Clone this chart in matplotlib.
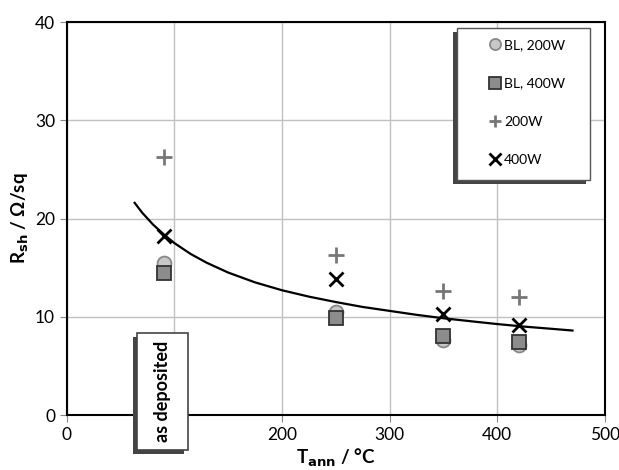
import matplotlib
matplotlib.use("Agg")
import matplotlib.pyplot as plt
from matplotlib.patches import Rectangle

plt.rcParams['font.family'] = ['Lato', 'DejaVu Sans']

T = [90, 250, 350, 420]
bl_200 = [15.5, 10.5, 7.6, 7.1]
bl_400 = [14.5, 9.9, 8.0, 7.4]
w_200 = [26.3, 16.3, 12.6, 12.0]
w_400 = [18.2, 13.8, 10.3, 9.2]

trend_x = [63, 70, 80, 90, 100, 115, 130, 150, 175, 200, 225, 250, 275, 300,
           325, 350, 375, 400, 425, 450, 470]
trend_y = [21.6, 20.6, 19.4, 18.4, 17.5, 16.4, 15.5, 14.5, 13.5, 12.7, 12.05, 11.5,
           11.0, 10.6, 10.2, 9.85, 9.55, 9.26, 9.0, 8.78, 8.6]

x_ticks = [0, 100, 200, 300, 400, 500]
x_ticklabels = ['0', '', '200', '300', '400', '500']
y_ticks = [0, 10, 20, 30, 40]

W, H = 619.0, 470.0
fig = plt.figure(figsize=(6.19, 4.70), dpi=100)
ax = fig.add_axes([0.108, 0.117, 0.869, 0.836])

ax.plot(trend_x, trend_y, color='black', lw=1.6, zorder=3)
ax.plot(T, bl_200, 'o', ms=10, mfc='#c8c8c8', mec='#888888', mew=1.3, ls='none', zorder=4, label='BL, 200W')
ax.plot(T, bl_400, 's', ms=10, mfc='#8c8c8c', mec='#333333', mew=1.3, ls='none', zorder=5, label='BL, 400W')
ax.plot(T, w_200, '+', ms=12, mec='#777777', mew=2, ls='none', zorder=4, label='200W')
ax.plot(T, w_400, 'x', ms=10, mec='black', mew=2, ls='none', zorder=4, label='400W')

ax.set_xlim(0, 500)
ax.set_ylim(0, 40)
ax.set_xticks(x_ticks)
ax.set_xticklabels(x_ticklabels)
ax.set_yticks(y_ticks)
ax.grid(True, color='#c0c0c0', lw=1)
ax.set_axisbelow(True)
for s in ax.spines.values():
    s.set_color('black')
    s.set_linewidth(1.5)
ax.tick_params(labelsize=12.5, length=5, color='#888888')

ax.set_xlabel('T$_{\\mathbf{ann}}$ / °C', fontsize=13.5, fontweight='bold', labelpad=3)
ax.set_ylabel('R$_{\\mathbf{sh}}$ / Ω/sq', fontsize=13.5, fontweight='bold', labelpad=3)

# legend box with shadow (drawn manually)
lx0, lx1, ly0, ly1 = 457, 590, 28, 180
fig.patches.append(Rectangle(((lx0 - 4) / W, 1 - (ly1 + 4) / H), (lx1 - lx0) / W, (ly1 - ly0) / H,
                             transform=fig.transFigure, fc='#444444', ec='none', zorder=9))
fig.patches.append(Rectangle((lx0 / W, 1 - ly1 / H), (lx1 - lx0) / W, (ly1 - ly0) / H,
                             transform=fig.transFigure, fc='white', ec='#555555', lw=1.0, zorder=10))
leg = fig.legend(loc='upper left', bbox_to_anchor=(488 / W, 1 - 39 / H), frameon=False,
                 fontsize=10, labelspacing=1.9, handletextpad=0.15,
                 borderpad=0.0, handlelength=1.0, borderaxespad=0.0)
leg.set_zorder(11)
for h in leg.legend_handles:
    h.set_markersize(8)

# "as deposited" box with shadow
x0, x1, y0, y1 = 137, 188, 333, 450
fig.patches.append(Rectangle(((x0 - 4) / W, 1 - (y1 + 4) / H), (x1 - x0) / W, (y1 - y0) / H,
                             transform=fig.transFigure, fc='#444444', ec='none', zorder=9))
fig.patches.append(Rectangle((x0 / W, 1 - y1 / H), (x1 - x0) / W, (y1 - y0) / H,
                             transform=fig.transFigure, fc='white', ec='#444444', lw=1.2, zorder=10))
fig.text((x0 + x1) / 2 / W, 1 - (y0 + y1) / 2 / H, 'as deposited', rotation=90, fontsize=13,
         fontweight='bold', ha='center', va='center', zorder=11)

fig.savefig('out.png', dpi=100)
